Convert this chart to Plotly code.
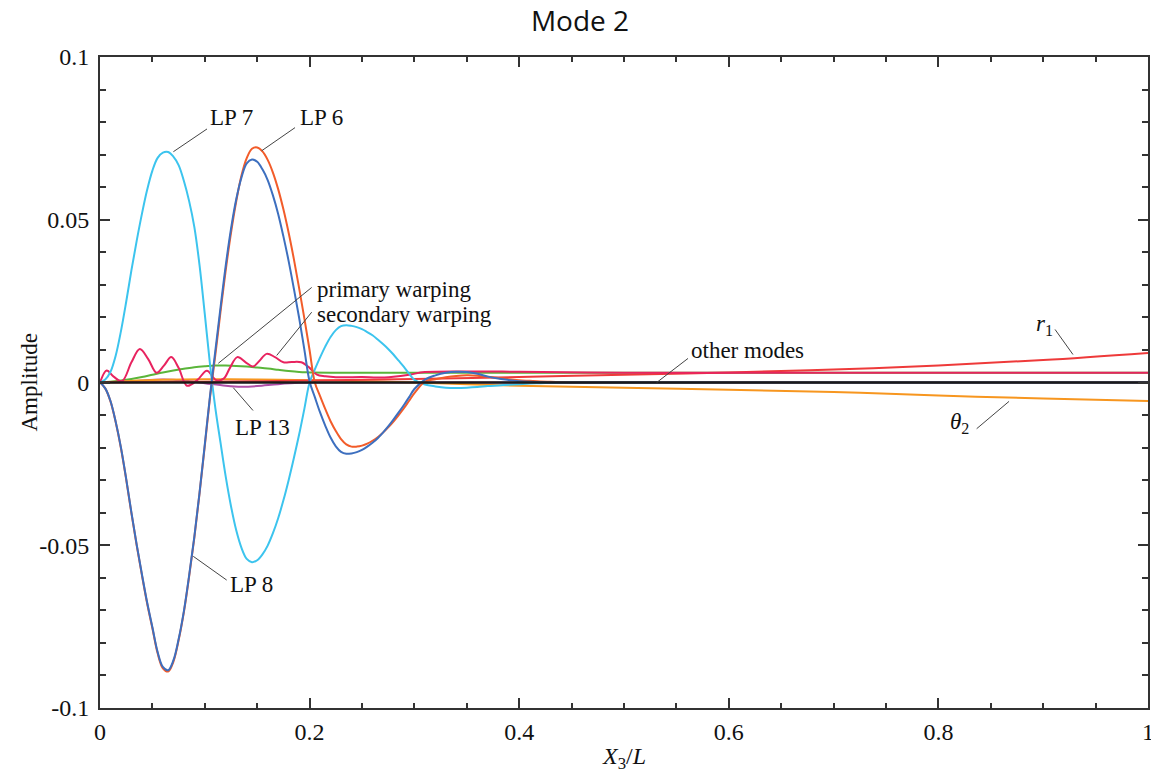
import plotly.graph_objects as go

# ---------------- data ----------------
X_MAIN = [0, 0.005, 0.01, 0.015, 0.02, 0.025, 0.03, 0.035, 0.04, 0.045,
          0.05, 0.055, 0.06, 0.065, 0.07, 0.075, 0.08, 0.085, 0.09, 0.095,
          0.1, 0.105, 0.11, 0.115, 0.12, 0.125, 0.13, 0.135, 0.14, 0.145,
          0.15, 0.155, 0.16, 0.165, 0.17, 0.175, 0.18, 0.185, 0.19, 0.195,
          0.2, 0.205, 0.21, 0.215, 0.22, 0.225, 0.23, 0.235, 0.24, 0.245,
          0.25, 0.255, 0.26, 0.265, 0.27, 0.275, 0.28, 0.285, 0.29, 0.295,
          0.3, 0.31, 0.32, 0.33, 0.34, 0.35, 0.36, 0.37, 0.38, 0.39,
          0.4, 0.41, 0.42, 0.43, 0.44, 0.45, 0.5, 0.6, 0.7, 0.8, 0.9, 1.0]

LP7_Y = [0, 0.0009, 0.0033, 0.0083, 0.0158, 0.0248, 0.0345, 0.0435, 0.0518, 0.0592,
         0.0651, 0.0690, 0.0706, 0.0708, 0.0694, 0.0668, 0.0620, 0.0558, 0.0478, 0.0360,
         0.0210, 0.0055, -0.0077, -0.0185, -0.029, -0.038, -0.0454, -0.0508, -0.0542, -0.0552,
         -0.0546, -0.0528, -0.0501, -0.0463, -0.0417, -0.0362, -0.030, -0.0232, -0.016, -0.0081,
         0.0, 0.0040, 0.0077, 0.0111, 0.014, 0.0161, 0.0173, 0.0176, 0.0174, 0.0170,
         0.0164, 0.0155, 0.0145, 0.0132, 0.0118, 0.0103, 0.0086, 0.0067, 0.0048, 0.0027,
         0.0008, -0.0006, -0.0012, -0.0016, -0.0017, -0.0016, -0.0014, -0.0011, -0.0009, -0.0007,
         -0.0005, -0.0003, -0.0002, -0.0001, 0, 0, 0, 0, 0, 0, 0, 0]

LP6_Y = [0, -0.0018, -0.0058, -0.0122, -0.0202, -0.0298, -0.0402, -0.0500, -0.0592, -0.0679,
         -0.0755, -0.0832, -0.0878, -0.0888, -0.0858, -0.0792, -0.0706, -0.0597, -0.0477, -0.034,
         -0.0195, -0.0045, 0.0083, 0.0218, 0.0346, 0.046, 0.0557, 0.0636, 0.0689, 0.0718,
         0.0722, 0.0710, 0.0684, 0.0645, 0.0594, 0.0532, 0.046, 0.0379, 0.029, 0.0197,
         0.0099, 0, -0.0042, -0.0082, -0.0119, -0.0149, -0.0174, -0.0190, -0.0197, -0.0197,
         -0.0194, -0.0188, -0.0179, -0.0168, -0.0154, -0.0138, -0.012, -0.0100, -0.0079, -0.0056,
         -0.0033, 0.0003, 0.001, 0.0016, 0.002, 0.0022, 0.0021, 0.0018, 0.0014, 0.001,
         0.0007, 0.0005, 0.0003, 0.0002, 0.0001, 0, 0, 0, 0, 0, 0, 0]

LP8_Y = [0, -0.0018, -0.0057, -0.0121, -0.0200, -0.0296, -0.0400, -0.0498, -0.0589, -0.0676,
         -0.0752, -0.0828, -0.0874, -0.0884, -0.0854, -0.0789, -0.0703, -0.0594, -0.0474, -0.0338,
         -0.0190, -0.0040, 0.0096, 0.023, 0.036, 0.0472, 0.0563, 0.0630, 0.0673, 0.0685,
         0.0678, 0.0655, 0.0622, 0.0575, 0.0518, 0.0449, 0.0373, 0.0288, 0.0199, 0.0101,
         0.0003, -0.0045, -0.0092, -0.0133, -0.0169, -0.0196, -0.0213, -0.0219, -0.0218, -0.0214,
         -0.0207, -0.0197, -0.0185, -0.0171, -0.0154, -0.0135, -0.0114, -0.0092, -0.0069, -0.0045,
         -0.002, 0.0009, 0.0022, 0.003, 0.0033, 0.0032, 0.0027, 0.0018, 0.0012, 0.0008,
         0.0004, 0.0002, 0.0001, 0, 0, 0, 0, 0, 0, 0, 0, 0]

PRIMARY_X = [0, 0.01, 0.02, 0.03, 0.04, 0.05, 0.06, 0.07, 0.08, 0.09, 0.1, 0.11, 0.12, 0.13, 0.14,
             0.15, 0.16, 0.17, 0.18, 0.19, 0.2, 0.22, 0.25, 0.3, 0.4, 0.5, 0.6, 0.7, 0.8, 0.9, 1.0]
PRIMARY_Y = [0, 0.0002, 0.0006, 0.0011, 0.0017, 0.0024, 0.0031, 0.0037, 0.0042, 0.0047, 0.005,
             0.0052, 0.0052, 0.0051, 0.0049, 0.0046, 0.0043, 0.0039, 0.0035, 0.0032, 0.0031, 0.003,
             0.003, 0.003, 0.003, 0.003, 0.003, 0.003, 0.003, 0.003, 0.003]

SECONDARY_X = [0, 0.0064, 0.013, 0.021, 0.03, 0.038, 0.046, 0.054, 0.061, 0.068, 0.075, 0.083, 0.093,
               0.102, 0.111, 0.118, 0.124, 0.131, 0.139, 0.146, 0.152, 0.159, 0.167, 0.175, 0.183,
               0.192, 0.2, 0.207, 0.215, 0.225, 0.235, 0.25, 0.265, 0.28, 0.295, 0.31, 0.35, 0.4,
               0.5, 0.6, 0.7, 0.8, 0.9, 1.0]
SECONDARY_Y = [0, 0.0037, 0.0018, 0.0004, 0.0062, 0.0103, 0.0072, 0.003, 0.0052, 0.0078, 0.0045,
               -0.001, 0.0008, 0.0036, 0.0007, 0.0012, 0.0045, 0.0078, 0.0062, 0.0049, 0.0066, 0.0088,
               0.0078, 0.0062, 0.0063, 0.0062, 0.0045, 0.0024, 0.0019, 0.0016, 0.0016, 0.0017, 0.0015,
               0.0018, 0.0024, 0.0032, 0.0034, 0.0033, 0.003, 0.003, 0.003, 0.003, 0.003, 0.003]

LP13_X = [0, 0.03, 0.06, 0.08, 0.1, 0.12, 0.135, 0.15, 0.17, 0.19, 0.22, 0.3, 0.5, 1.0]
LP13_Y = [0, 0.0004, 0.0009, 0.0006, -0.0002, -0.001, -0.0013, -0.0011, -0.0005, -0.0001, 0, 0, 0, 0]

R1_X = [0, 0.1, 0.2, 0.3, 0.4, 0.5, 0.6, 0.7, 0.8, 0.9, 1.0]
R1_Y = [0, 0.0002, 0.0006, 0.0011, 0.0017, 0.0024, 0.0031, 0.004, 0.0052, 0.0069, 0.0091]

THETA2_X = [0, 0.05, 0.1, 0.15, 0.2, 0.25, 0.3, 0.4, 0.5, 0.6, 0.7, 0.8, 0.9, 1.0]
THETA2_Y = [0, 0.0008, 0.001, 0.0009, 0.0007, 0.0004, 0.0, -0.001, -0.0016, -0.0022, -0.0029,
            -0.004, -0.0049, -0.0057]

OTHER_X = [0, 1.0]
OTHER_Y = [0, 0]

X_TICKS = [0, 0.2, 0.4, 0.6, 0.8, 1.0]
X_TICKTEXT = ["0", "0.2", "0.4", "0.6", "0.8", "1"]
Y_TICKS = [-0.1, -0.05, 0, 0.05, 0.1]
Y_TICKTEXT = ["-0.1", "-0.05", "0", "0.05", "0.1"]

# ---------------- figure ----------------
SERIF = "Liberation Serif, Times New Roman, serif"
AX = "#333333"

series = [
    ("primary warping", PRIMARY_X, PRIMARY_Y, "#5ab53a"),
    ("LP 13", LP13_X, LP13_Y, "#b04fa8"),
    ("theta2", THETA2_X, THETA2_Y, "#f7961f"),
    ("r1", R1_X, R1_Y, "#ee3a3a"),
    ("secondary warping", SECONDARY_X, SECONDARY_Y, "#e8235f"),
    ("LP 7", X_MAIN, LP7_Y, "#3cc4ee"),
    ("LP 6", X_MAIN, LP6_Y, "#f25c2a"),
    ("LP 8", X_MAIN, LP8_Y, "#3d6fbf"),
]

fig = go.Figure()
for name, xs, ys, col in series:
    fig.add_trace(go.Scatter(x=xs, y=ys, mode="lines", name=name,
                             line=dict(color=col, width=2, shape="spline", smoothing=1.0)))
fig.add_trace(go.Scatter(x=OTHER_X, y=OTHER_Y, mode="lines", name="other modes",
                         line=dict(color="#1a1a1a", width=2.5)))

# labels: (text, text_x, text_y, xanchor, leader from (x0,y0) on curve to (x1,y1))
labels = [
    ("LP 7", 0.125, 0.0813, "center", (0.070, 0.0709, 0.1021, 0.0779)),
    ("LP 6", 0.2109, 0.0813, "center", (0.1543, 0.0712, 0.1861, 0.0783)),
    ("primary warping", 0.2052, 0.0285, "left", (0.1129, 0.0059, 0.2020, 0.0292)),
    ("secondary warping", 0.2052, 0.0209, "left", (0.1686, 0.0083, 0.2020, 0.0216)),
    ("LP 13", 0.1546, -0.0138, "center", (0.1272, -0.0016, 0.146, -0.0086)),
    ("LP 8", 0.1441, -0.0620, "center", (0.0890, -0.0534, 0.1209, -0.0607)),
    ("other modes", 0.6174, 0.0098, "center", (0.5312, 0.0, 0.5611, 0.0074)),
    ("<i>r</i><sub>1</sub>", 0.9017, 0.0178, "center", (0.9284, 0.0086, 0.9113, 0.0163)),
    ("<i>θ</i><sub>2</sub>", 0.8206, -0.0123, "center", (0.8674, -0.0058, 0.8365, -0.0142)),
]
for text, tx, ty, xa, (x0, y0, x1, y1) in labels:
    fig.add_shape(type="line", xref="x", yref="y", x0=x0, y0=y0, x1=x1, y1=y1,
                  line=dict(color="#444444", width=1))
    fig.add_annotation(x=tx, y=ty, xref="x", yref="y", text=text, showarrow=False,
                       xanchor=xa, yanchor="middle",
                       font=dict(family=SERIF, size=23, color="#111111"))

# axis titles as paper-anchored annotations for precise placement
fig.add_annotation(x=-0.0668, y=0.5, xref="paper", yref="paper", text="Amplitude",
                   textangle=-90, showarrow=False, xanchor="center", yanchor="middle",
                   font=dict(family=SERIF, size=23, color="#111111"))
fig.add_annotation(x=0.5, y=-0.0768, xref="paper", yref="paper",
                   text="<i>X</i><sub>3</sub>/<i>L</i>", showarrow=False,
                   xanchor="center", yanchor="middle",
                   font=dict(family=SERIF, size=24, color="#111111"))

axis_common = dict(
    showgrid=False, zeroline=False, showline=True, linecolor=AX, linewidth=2,
    mirror="ticks", ticks="inside", ticklen=10, tickwidth=1.5, tickcolor=AX,
    tickfont=dict(family=SERIF, size=24, color="#111111"),
    automargin=False,
)

# the page body adds an 8 px offset, so the figure is 8 px smaller than the window
fig.update_layout(
    width=1151, height=773,
    margin=dict(l=92, r=11, t=49, b=73),
    paper_bgcolor="white", plot_bgcolor="white",
    showlegend=False,
    title=dict(text="Mode 2", x=(580 - 8) / 1151, xref="container", y=1 - 13 / 773,
               yref="container", xanchor="center", yanchor="middle", automargin=False,
               font=dict(family="Open Sans, sans-serif", size=28, color="#111111")),
    xaxis=dict(range=[0, 1], tickmode="array", tickvals=X_TICKS, ticktext=X_TICKTEXT,
               ticklabelstandoff=1,
               minor=dict(tickmode="linear", tick0=0, dtick=0.05, ticks="inside", ticklen=5,
                          tickwidth=1.5, tickcolor=AX, showgrid=False),
               **axis_common),
    yaxis=dict(range=[-0.1, 0.1], tickmode="array", tickvals=Y_TICKS, ticktext=Y_TICKTEXT,
               ticklabelstandoff=4,
               minor=dict(tickmode="linear", tick0=0, dtick=0.01, ticks="inside", ticklen=6,
                          tickwidth=1.5, tickcolor=AX, showgrid=False),
               **axis_common),
)

fig.write_html("out.html")
